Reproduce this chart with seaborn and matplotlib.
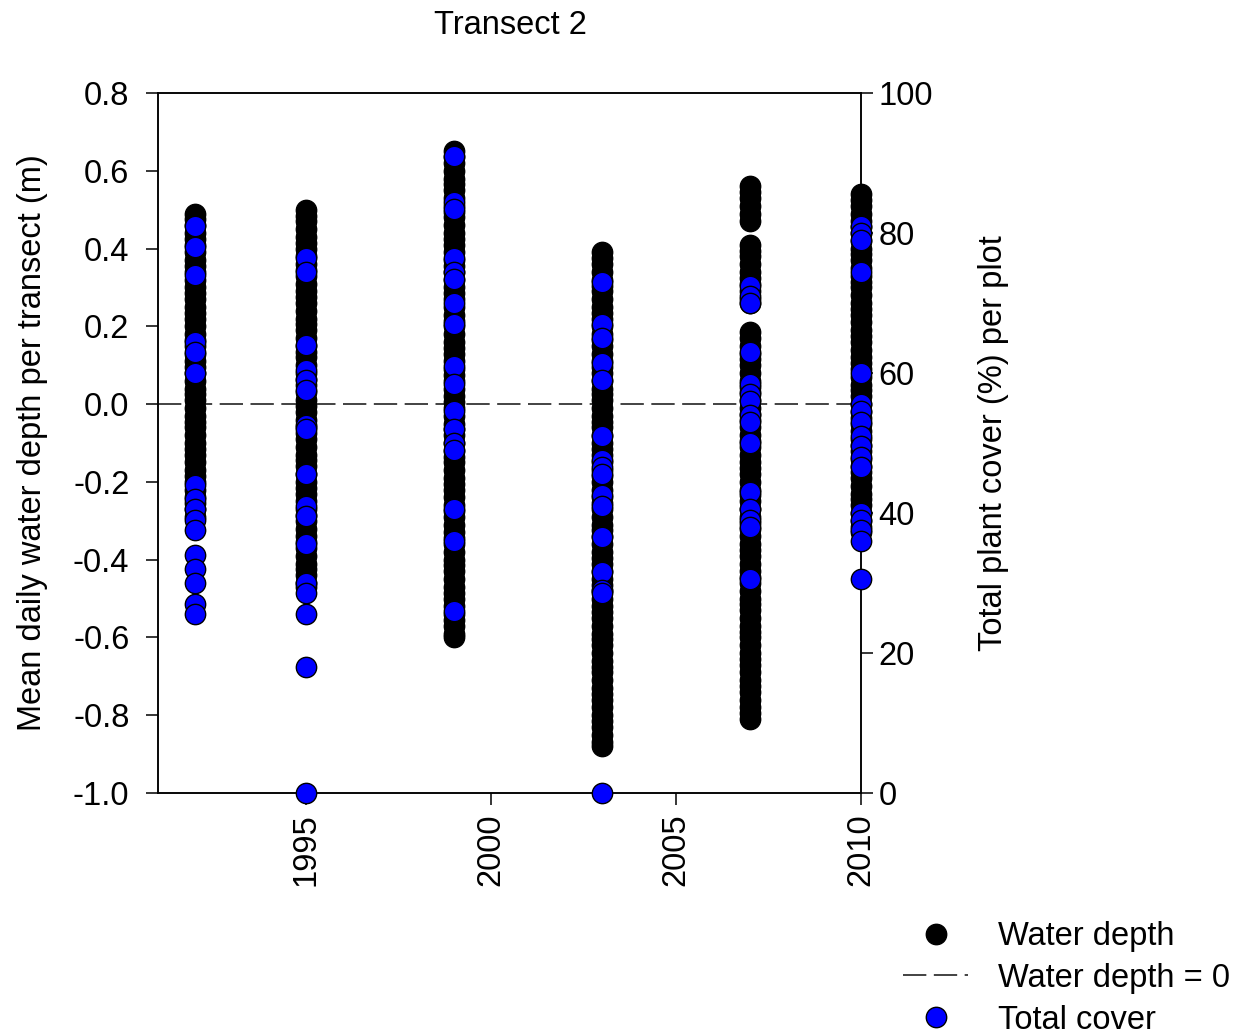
import matplotlib
matplotlib.use("Agg")
import matplotlib.pyplot as plt
from matplotlib.lines import Line2D
import seaborn as sns
import pandas as pd

# ── Data ─────────────────────────────────────────────────────────────────────
years = [1992, 1995, 1999, 2003, 2007, 2010]

# mean daily water depth per transect (m), one list per sampling year
depth_1992 = [0.49, 0.475, 0.46, 0.44, 0.425, 0.41, 0.39, 0.37, 0.355, 0.34,
              0.32, 0.30, 0.285, 0.27, 0.25, 0.235, 0.22, 0.20, 0.18, 0.165,
              0.15, 0.13, 0.11, 0.095, 0.08, 0.06, 0.04, 0.025, 0.01, -0.01,
              -0.03, -0.045, -0.06, -0.08, -0.10, -0.115, -0.13, -0.15, -0.17,
              -0.185, -0.20, -0.22, -0.24, -0.255, -0.27, -0.29]
depth_1995 = [0.50, 0.485, 0.47, 0.45, 0.43, 0.415, 0.40, 0.38, 0.36, 0.345,
              0.33, 0.31, 0.29, 0.275, 0.26, 0.24, 0.22, 0.205, 0.19, 0.17,
              0.15, 0.135, 0.12, 0.10, 0.08, 0.065, 0.05, 0.03, 0.01, -0.005,
              -0.02, -0.04, -0.06, -0.075, -0.09, -0.11, -0.13, -0.145, -0.16,
              -0.18, -0.20, -0.215, -0.23, -0.25, -0.27, -0.285, -0.30, -0.32,
              -0.34, -0.355, -0.37, -0.39, -0.41, -0.425, -0.44, -0.46, -0.47]
depth_1999 = [0.65, 0.635, 0.62, 0.60, 0.58, 0.565, 0.55, 0.53, 0.51, 0.495,
              0.48, 0.46, 0.44, 0.425, 0.41, 0.39, 0.37, 0.355, 0.34, 0.32,
              0.30, 0.285, 0.27, 0.25, 0.23, 0.215, 0.20, 0.18, 0.16, 0.145,
              0.13, 0.11, 0.09, 0.075, 0.06, 0.04, 0.02, 0.005, -0.01, -0.03,
              -0.05, -0.065, -0.08, -0.10, -0.12, -0.135, -0.15, -0.17, -0.19,
              -0.205, -0.22, -0.24, -0.26, -0.275, -0.29, -0.31, -0.33, -0.345,
              -0.36, -0.38, -0.40, -0.415, -0.43, -0.45, -0.47, -0.485, -0.50,
              -0.52, -0.54, -0.555, -0.57, -0.59, -0.60]
depth_2003 = [0.39, 0.375, 0.36, 0.34, 0.32, 0.305, 0.29, 0.27, 0.25, 0.235,
              0.22, 0.20, 0.18, 0.165, 0.15, 0.13, 0.11, 0.095, 0.08, 0.06,
              0.04, 0.025, 0.01, -0.01, -0.03, -0.045, -0.06, -0.08, -0.10,
              -0.115, -0.13, -0.15, -0.17, -0.185, -0.20, -0.22, -0.24, -0.255,
              -0.27, -0.29, -0.31, -0.325, -0.34, -0.36, -0.38, -0.395, -0.41,
              -0.43, -0.45, -0.465, -0.48, -0.50, -0.52, -0.535, -0.55, -0.57,
              -0.59, -0.605, -0.62, -0.64, -0.66, -0.675, -0.69, -0.71, -0.73,
              -0.745, -0.76, -0.78, -0.80, -0.815, -0.83, -0.85, -0.87, -0.88]
depth_2007 = [0.56, 0.545, 0.53, 0.51, 0.49, 0.47,
              0.41, 0.395, 0.38, 0.36, 0.34, 0.325, 0.31, 0.29, 0.27, 0.26,
              0.185, 0.17, 0.15, 0.13, 0.115, 0.10, 0.08, 0.06, 0.045, 0.03,
              0.01, -0.01, -0.025, -0.04, -0.06, -0.08, -0.095, -0.11, -0.13,
              -0.15, -0.165, -0.18, -0.20, -0.22, -0.235, -0.25, -0.27, -0.29,
              -0.305, -0.32, -0.34, -0.36, -0.375, -0.39, -0.41, -0.43, -0.445,
              -0.46, -0.48, -0.50, -0.515, -0.53, -0.55, -0.57, -0.585, -0.60,
              -0.62, -0.64, -0.655, -0.67, -0.69, -0.71, -0.725, -0.74, -0.76,
              -0.78, -0.795, -0.81]
depth_2010 = [0.54, 0.525, 0.51, 0.49, 0.47, 0.455, 0.44, 0.42, 0.40, 0.385,
              0.37, 0.35, 0.33, 0.315, 0.30, 0.28, 0.26, 0.245, 0.23, 0.21,
              0.19, 0.175, 0.16, 0.14, 0.12, 0.105, 0.09, 0.07, 0.05, 0.035,
              0.02, 0.00, -0.02, -0.035, -0.05, -0.07, -0.09, -0.105, -0.12,
              -0.14, -0.16, -0.175, -0.19, -0.21, -0.23, -0.245, -0.26, -0.28,
              -0.30, -0.315, -0.33]

# total plant cover (%) per plot
cover_1992 = [81, 78, 74, 64.5, 63, 60, 44, 42, 40.5, 39, 37.5, 34, 32, 30, 27, 25.5]
cover_1995 = [76.5, 74.5, 64, 60.5, 59, 57.5, 52.5, 52, 45.5, 41, 39.5, 35.5,
              30, 28.5, 25.5, 18, 0]
cover_1999 = [91, 84.5, 83.5, 76.5, 74.5, 73.5, 70, 67, 61, 58.5, 54.5, 52, 50,
              49, 40.5, 36, 26]
cover_2003 = [73, 67, 65, 61.5, 59, 51, 47.5, 46.5, 45.5, 42.5, 41, 36.5, 31.5,
              29, 28.5, 0]
cover_2007 = [72.5, 71, 70, 63, 58.5, 57, 56, 54, 53, 50, 43, 40.5, 39, 38, 30.5]
cover_2010 = [81, 80, 79, 74.5, 60, 55.5, 54.5, 53, 51, 49.5, 48, 46.5, 40, 39,
              37.5, 36, 30.5]

depth_lists = [depth_1992, depth_1995, depth_1999, depth_2003, depth_2007, depth_2010]
cover_lists = [cover_1992, cover_1995, cover_1999, cover_2003, cover_2007, cover_2010]

depth_df = pd.DataFrame([(yr, v) for yr, vals in zip(years, depth_lists) for v in vals],
                        columns=["year", "depth"])
cover_df = pd.DataFrame([(yr, v) for yr, vals in zip(years, cover_lists) for v in vals],
                        columns=["year", "cover"])

# ── Style ─────────────────────────────────────────────────────────────────────
sns.set_style("ticks")
plt.rcParams["font.family"] = ["Liberation Sans", "DejaVu Sans"]
plt.rcParams.update({
    "font.size": 23.5,
    "axes.linewidth": 1.1,
    "xtick.major.size": 8.6,
    "ytick.major.size": 8.6,
    "xtick.major.width": 1.1,
    "ytick.major.width": 1.1,
    "xtick.direction": "out",
    "ytick.direction": "out",
    "axes.edgecolor": "black",
    "xtick.color": "black",
    "ytick.color": "black",
    "text.color": "black",
    "axes.labelcolor": "black",
})

MS = 215            # marker area (pt^2) for the scatter dots
DASH = (14, 4.5)    # dash pattern of the zero line
FS = 23.5

fig = plt.figure(figsize=(12.54, 10.36), dpi=100)
ax = fig.add_axes([0.126, 0.2346, 0.5606, 0.6756])

ax.axhline(0, color="#222222", linewidth=1.2, dashes=DASH, zorder=1)
sns.scatterplot(data=depth_df, x="year", y="depth", ax=ax, color="black",
                edgecolor="black", s=MS, linewidth=1, zorder=2, legend=False,
                clip_on=False)

ax.set_xlim(1991, 2010)
ax.set_ylim(-1.0, 0.8)
ax.set_xticks([1995, 2000, 2005, 2010])
ax.set_xticklabels(["1995", "2000", "2005", "2010"], rotation=90)
ax.set_yticks([-1.0, -0.8, -0.6, -0.4, -0.2, 0.0, 0.2, 0.4, 0.6, 0.8])
ax.set_yticklabels([f"{v:.1f}" for v in ax.get_yticks()])
ax.set_xlabel("")
ax.set_ylabel("Mean daily water depth per transect (m)", fontsize=FS)
ax.yaxis.set_label_coords(-0.156, 0.5)
ax.tick_params(axis="y", labelsize=FS, pad=12)
ax.tick_params(axis="x", labelsize=FS, pad=6)

ax2 = ax.twinx()
sns.scatterplot(data=cover_df, x="year", y="cover", ax=ax2, color="#0000ff",
                edgecolor="black", s=MS, linewidth=1, zorder=3, legend=False,
                clip_on=False)
ax2.set_ylim(0, 100)
ax2.set_yticks([0, 20, 40, 60, 80, 100])
ax2.set_ylabel("Total plant cover (%) per plot", fontsize=FS)
ax2.yaxis.set_label_coords(1.166, 0.5)
ax2.tick_params(axis="y", labelsize=FS, pad=4)
ax2.set_xlim(1991, 2010)

for a in (ax, ax2):
    for sp in a.spines.values():
        sp.set_visible(True)
        sp.set_color("black")

fig.text(0.407, 0.975, "Transect 2", ha="center", va="center", fontsize=FS)

handles = [
    Line2D([], [], marker="o", linestyle="none", color="black",
           markeredgecolor="black", markersize=14.7),
    Line2D([], [], color="#222222", linewidth=1.2, dashes=DASH),
    Line2D([], [], marker="o", linestyle="none", color="#0000ff",
           markeredgecolor="black", markersize=14.7),
]
labels = ["Water depth", "Water depth = 0", "Total cover"]
fig.legend(handles, labels, loc="upper left", bbox_to_anchor=(0.72, 0.111),
           frameon=False, borderpad=0, borderaxespad=0, handlelength=2.0,
           handletextpad=0.9, labelspacing=0.33, fontsize=FS)

fig.savefig("out.png", dpi=100)
